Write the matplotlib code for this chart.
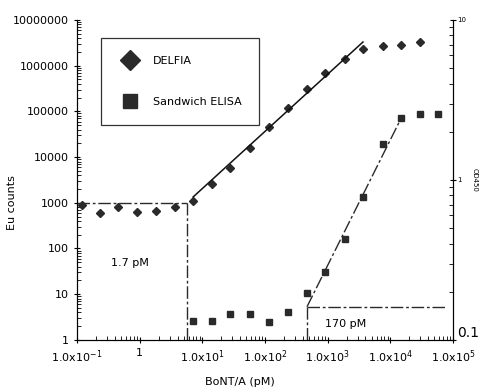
import numpy as np
import matplotlib.pyplot as plt

# concentracion BoNT/A (pM)
conc = [0.12, 0.23, 0.45, 0.9, 1.8, 3.6, 7.1, 14, 28, 57, 115, 230, 460,
        920, 1850, 3700, 7500, 15000, 29500, 57000]

delfia = [880, 600, 810, 630, 660, 810, 1100, 2570, 5800, 15800, 45600,
          118000, 309000, 690000, 1400000, 2300000, 2700000, 2800000, 3300000]

elisa = [0.131, 0.132, 0.145, 0.145, 0.130, 0.150, 0.197, 0.266, 0.428,
         0.78, 1.68, 2.44, 2.59, 2.59]

# ajustes lineales y limites de deteccion
delfia_fit_x = [7.1, 3650]
delfia_fit_y = [1340, 3300000]
elisa_fit_x = [466, 15200]
elisa_fit_y = [0.161, 2.48]
lod_delfia = 5.7
lod_delfia_y = 1000
lod_elisa = 466
lod_elisa_y = 0.161

x_ticks = [0.1, 1, 10, 100, 1000, 10000, 100000]
x_labels = [r'1.0x10$^{-1}$', '1', r'1.0x10$^{1}$', r'1.0x10$^{2}$',
            r'1.0x10$^{3}$', r'1.0x10$^{4}$', r'1.0x10$^{5}$']
y_ticks = [1, 10, 100, 1000, 10000, 100000, 1000000, 10000000]

col = '#2a2a2a'
dash = (0, (9, 2, 2, 2))

fig = plt.figure(figsize=(4.82, 3.92), dpi=100)
ax = fig.add_axes([0.160, 0.133, 0.780, 0.816])
ax2 = ax.twinx()

ax.set_xscale('log')
ax.set_yscale('log')
ax.set_xlim(0.1, 100000)
ax.set_ylim(1, 10000000)

ax.plot(conc[:len(delfia)], delfia, 'D', color=col, ms=4.5, label='DELFIA')
ax.plot(delfia_fit_x, delfia_fit_y, '-', color='#111111', lw=1.1)
ax.plot([0.1, lod_delfia], [lod_delfia_y, lod_delfia_y], color=col, lw=1, linestyle=dash)
ax.plot([lod_delfia, lod_delfia], [1, lod_delfia_y], color=col, lw=1, linestyle=dash)
ax.text(0.7, 48, '1.7 pM', fontsize=8, ha='center', va='center')

ax2.set_yscale('log')
ax2.set_ylim(0.1, 10)
ax2.plot(conc[6:6 + len(elisa)], elisa, 's', color=col, ms=4.5, label='Sandwich ELISA')
ax2.plot(elisa_fit_x, elisa_fit_y, color=col, lw=1, linestyle=dash)
ax2.plot([lod_elisa, 79000], [lod_elisa_y, lod_elisa_y], color=col, lw=1, linestyle=dash)
ax2.plot([lod_elisa, lod_elisa], [0.1, lod_elisa_y], color=col, lw=1, linestyle=dash)
ax2.text(1900, 0.125, '170 pM', fontsize=8, ha='center', va='center')

ax.set_xticks(x_ticks)
ax.set_xticklabels(x_labels, fontsize=8)
ax.set_yticks(y_ticks)
ax.set_yticklabels([str(v) for v in y_ticks], fontsize=8)
ax.tick_params(which='major', direction='inout', length=5, width=0.8)
ax.tick_params(which='minor', direction='in', length=3, width=0.6)
ax2.set_yticks([0.1, 1, 10])
ax2.set_yticklabels(['0.1', '1', '10'])
ax2.tick_params(which='major', direction='inout', length=4, width=0.8, labelsize=5, pad=1)
ax2.tick_params(which='minor', direction='in', length=3, width=0.6)
lab01 = ax2.get_yticklabels()[0]
lab01.set_fontsize(10)
lab01.set_verticalalignment('bottom')

for a in (ax, ax2):
    a.spines['top'].set_visible(False)
    for s in a.spines.values():
        s.set_linewidth(0.8)

ax.set_ylabel('Eu counts', fontsize=8)
ax.yaxis.set_label_coords(-0.16, 0.43)
ax.set_xlabel('BoNT/A (pM)', fontsize=8)
ax.xaxis.set_label_coords(0.434, -0.115)
ax2.set_ylabel('OD450', fontsize=5, rotation=270)
ax2.yaxis.set_label_coords(1.065, 0.5)

h1, l1 = ax.get_legend_handles_labels()
h2, l2 = ax2.get_legend_handles_labels()
leg = ax.legend(h1 + h2, l1 + l2, loc='upper left', bbox_to_anchor=(0.05, 0.96),
                fontsize=8, markerscale=2.2, frameon=True, fancybox=False,
                edgecolor='black', borderpad=1.6, labelspacing=2.8, handletextpad=1.0)
leg.get_frame().set_linewidth(0.9)

plt.savefig('out.png', dpi=100)
